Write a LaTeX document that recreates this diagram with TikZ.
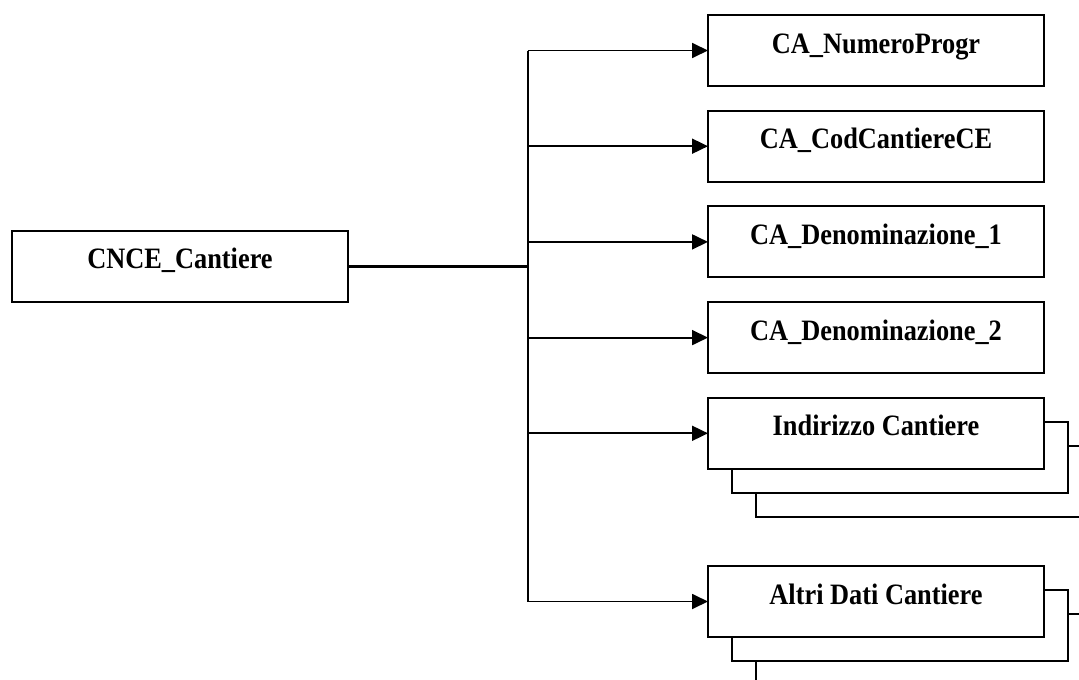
\documentclass[tikz,border=0pt]{standalone}
\usepackage{fontspec}
\setmainfont{Liberation Serif}[FakeStretch=0.89]
\usetikzlibrary{arrows.meta}

\tikzset{
  campo/.style={draw, line width=2pt, fill=white, inner sep=0pt, outer sep=0pt,
    minimum width=336pt, text height=38pt, text depth=33pt,
    font=\fontsize{29.6}{32}\selectfont\bfseries},
  ramo/.style={->, line width=1.8pt},
}

\begin{document}
\begin{tikzpicture}[x=1pt,y=-1pt,>={Triangle[length=16pt,width=15pt]}]
\useasboundingbox (0,0) rectangle (1079,680);

% radice
\node[campo] (cantiere) at (180,266) {CNCE\_Cantiere};

% campi semplici
\node[campo] (numprogr) at (876,50.5) {CA\_NumeroProgr};
\node[campo] (codcant) at (876,146.2) {CA\_CodCantiereCE};
\node[campo] (denom1) at (876,241.9) {CA\_Denominazione\_1};
\node[campo] (denom2) at (876,337.6) {CA\_Denominazione\_2};

% gruppi ripetuti (pila di schede)
\node[campo] (indir3) at (924,481.3) {};
\node[campo] (indir2) at (900,457.3) {};
\node[campo] (indirizzo) at (876,433.3) {Indirizzo Cantiere};

\node[campo] (altri3) at (924,649.5) {};
\node[campo] (altri2) at (900,625.5) {};
\node[campo] (altri) at (876,601.5) {Altri Dati Cantiere};

% linea di smistamento
\coordinate (snodo) at (527.5,266);
\draw[line width=3pt] (cantiere.east) -- (snodo);
\draw[line width=2pt] (snodo |- numprogr.west) -- (snodo |- altri.west);

% frecce
\draw[ramo] (snodo |- numprogr.west) -- (numprogr.west);
\draw[ramo] (snodo |- codcant.west) -- (codcant.west);
\draw[ramo] (snodo |- denom1.west) -- (denom1.west);
\draw[ramo] (snodo |- denom2.west) -- (denom2.west);
\draw[ramo] (snodo |- indirizzo.west) -- (indirizzo.west);
\draw[ramo] (snodo |- altri.west) -- (altri.west);

\end{tikzpicture}
\end{document}
